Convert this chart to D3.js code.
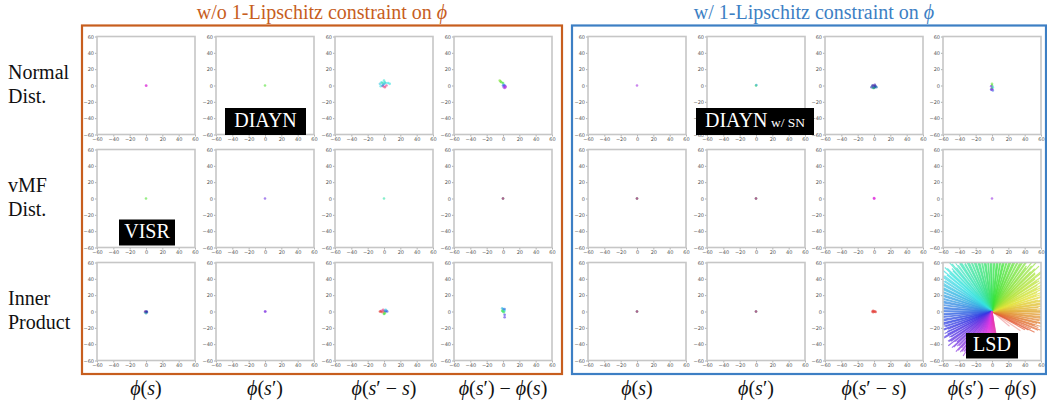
<!DOCTYPE html>
<html>
<head>
<meta charset="utf-8">
<script src="https://cdn.jsdelivr.net/npm/d3@7"></script>
<style>
  html, body { margin: 0; padding: 0; background: #fff; }
  svg { display: block; }
</style>
</head>
<body>
<svg id="chart" width="1047" height="404"></svg>
<script>
// ---- data ----------------------------------------------------------------
const rowLabels = [["Normal", "Dist."], ["vMF", "Dist."], ["Inner", "Product"]];
const columnLabels = ["ϕ(s)", "ϕ(s′)", "ϕ(s′ − s)", "ϕ(s′) − ϕ(s)"];
const groupTitles = ["w/o 1-Lipschitz constraint on ", "w/ 1-Lipschitz constraint on "];
const axisTicks = [-60, -40, -20, 0, 20, 40, 60];
const methodTags = [
  { row: 0, col: 1, name: "DIAYN", suffix: "" },
  { row: 0, col: 5, name: "DIAYN", suffix: " w/ SN" },
  { row: 1, col: 0, name: "VISR", suffix: "" },
  { row: 2, col: 7, name: "LSD", suffix: "" }
];

// Final latent states per skill: [x, y, skill direction in degrees]
const normalDistPoints = [
  [[0, 0, 255], [0.4, -0.3, 265]],
  [[0, 0, 70]],
  [[-3, 4, 140], [0, 6, 135], [2, 3, 150], [-1, 1, 145], [-4, -1, 140], [3, 0, 290], [1, -2, 300],
   [5, 3, 140], [-2, 3, 120], [0, 2, 160], [7, 2, 140], [-5, 2, 150], [-1, -1, 290], [1, 4, 130], [-2, 0, 170]],
  [[-3, 5, 60], [-2, 4, 70], [-4, 6, 55], [0, 3, 80], [1, 1, 150], [2, 0, 200], [3, -1, 235],
   [2, -3, 240], [1, -2, 230], [0, 0, 190], [3, -2, 245]],
  [[0, 0, 240]],
  [[0, 0, 80], [0.5, 0.5, 160]],
  [[-2, 0, 170], [0, -1, 150], [2, -1, 200], [-1, -3, 130], [1, 1, 210], [3, -2, 160],
   [-3, -2, 190], [0, -3, 110], [1, -2, 180], [-1, 0, 230]],
  [[0, 2, 60], [0, 0, 80], [1, -2, 140], [0, -4, 220], [-1, -5, 200], [1, -6, 180],
   [0, -3, 100], [-1, -1, 230], [0, -5, 240]]
];
const vmfDistPoints = [
  [[0, 0, 70]],
  [[0, 0, 220]],
  [[0, 0, 120]],
  [[0, 0, 60], [0, 0, 180], [0, 0, 300]],
  [[0, 0, 60], [0, 0, 180], [0, 0, 300]],
  [[0, 0, 60], [0, 0, 180], [0, 0, 300]],
  [[0, 0, 255], [0.5, 0, 265], [0, 0.5, 260]],
  [[0, 0, 235]]
];
const innerProductPoints = [
  [[0, 0, 170], [-1, -1, 130], [1, -1, 210], [0, -2, 150], [-1, 0, 250], [1, 0, 190]],
  [[0, 0, 220], [0.5, 0, 230]],
  [[-4, 0, -40], [-3, 1, 290], [-2, -1, -35], [-1, 2, 295], [0, 0, -30], [1, 1, 170], [2, 0, 190],
   [3, 1, 180], [1, -2, 70], [0, -3, 80], [2, 2, 150], [-5, 0, -38], [4, 0, 185]],
  [[-1, 4, 150], [0, 3, 160], [1, 2, 170], [2, 1, 140], [0, 0, 120], [-1, 1, 80], [2, 3, 180],
   [1, -1, 90], [2, -4, 200], [2, -7, 210]],
  [[0, 0, 60], [0, 0, 180], [0, 0, 300]],
  [[0, 0, 60], [0, 0, 180], [0, 0, 300]],
  [[-2, 0, -42], [-1, 1, -40], [0, 0, -38], [1, 0, -35], [2, -0.5, -40], [-1, -1, -36]],
  null
];

// LSD trajectories: [direction in degrees, travelled distance]
const lsdTrajectories = [
  [-40, 28], [-34, 42],
  [-29, 46], [-26, 58], [-24, 52], [-21, 64], [-19, 60], [-17, 66], [-15, 57], [-13, 63], [-10, 68], [-8, 61],
  [-6, 64], [-4, 59], [-1, 66], [1, 62], [3, 70], [5, 57], [8, 65], [10, 61], [12, 68], [14, 58], [16, 66],
  [19, 63], [21, 70], [23, 60], [26, 67], [28, 72], [30, 64],
  [33, 69], [35, 75], [37, 66], [39, 78], [42, 71], [44, 80], [46, 68], [49, 74], [51, 77], [53, 70],
  [55, 82], [58, 73], [60, 68], [62, 76], [65, 71], [67, 79], [69, 66], [71, 74], [74, 70], [76, 78],
  [78, 67], [81, 73], [83, 69], [85, 77], [88, 64], [90, 72], [92, 68], [94, 75], [97, 66], [99, 71],
  [101, 63], [104, 74], [106, 69], [108, 66], [110, 72], [113, 68], [115, 75], [117, 70], [120, 67],
  [122, 78], [124, 71], [127, 74], [129, 69], [131, 80], [133, 72], [136, 76], [138, 70], [140, 78], [143, 73],
  [145, 75], [147, 69], [150, 77], [152, 72], [154, 66], [156, 74], [159, 70], [161, 67], [163, 73],
  [166, 65], [168, 71], [170, 63], [172, 68], [175, 66], [177, 72], [179, 62], [182, 69], [184, 64],
  [186, 70], [189, 61], [191, 67], [193, 63], [195, 70], [198, 60],
  [200, 66], [202, 58], [205, 64], [207, 61], [209, 67], [212, 59], [214, 65], [216, 62], [218, 68],
  [221, 57], [223, 64], [225, 60], [228, 66], [230, 58], [232, 63], [235, 60], [237, 65], [239, 57],
  [241, 62], [244, 59],
  [246, 61], [248, 55], [251, 58], [253, 52], [255, 57], [258, 54], [260, 50], [262, 56], [265, 48],
  [268, 53], [271, 47], [274, 51], [277, 44], [280, 40],
  [-27, 50], [-22, 61], [-18, 55], [-14, 67], [-11, 59], [-7, 66], [-3, 62], [0, 69], [2, 55], [6, 67],
  [9, 60], [13, 64], [17, 71], [20, 58], [24, 66], [27, 62], [31, 73], [34, 66], [38, 77], [41, 70],
  [45, 74], [48, 81], [52, 68], [56, 75], [59, 79], [63, 70], [66, 77], [70, 72], [73, 80], [77, 69],
  [80, 75], [84, 71], [87, 78], [91, 66], [95, 74], [98, 69], [102, 77], [105, 65], [109, 73], [112, 70],
  [116, 79], [119, 68], [123, 74], [126, 70], [130, 76], [134, 69], [137, 79], [141, 71], [144, 76],
  [148, 72], [151, 68], [155, 75], [158, 71], [162, 64], [165, 70], [169, 66], [173, 71], [176, 63],
  [180, 68], [183, 65], [187, 71], [190, 62], [194, 66], [197, 62], [201, 63], [204, 60], [208, 66],
  [211, 61], [215, 64], [219, 59], [222, 66], [226, 58], [229, 63], [233, 61], [236, 58], [240, 63],
  [243, 56], [247, 58], [250, 54], [254, 59], [257, 51], [261, 55], [264, 50], [267, 49], [270, 52],
  [273, 46], [276, 48], [279, 43]
];

const panelPoints = [normalDistPoints, vmfDistPoints, innerProductPoints];

// ---- layout --------------------------------------------------------------
const COLS = [97, 216, 335, 454, 588, 707, 825, 943];
const ROWS = [36.5, 149.5, 262.5];
const SIZE = 98;
const ORANGE = "#c75e1e";
const BLUE = "#3d7fc4";
const SERIF = "'Liberation Serif', 'DejaVu Serif', serif";
// darker rendering for the tightly packed clusters
const darkPanels = new Set(["0-6", "2-0"]);

const svg = d3.select("#chart");
const x = d3.scaleLinear().domain([-60, 60]).range([0, SIZE]);
const y = d3.scaleLinear().domain([-60, 60]).range([SIZE, 0]);
const skillColor = (deg, l = 0.55) => d3.hsl(40 + deg, 0.75, l).toString();

// group frames and titles
const groups = [
  { x0: 82, x1: 562, color: ORANGE, title: groupTitles[0], cx: 322 },
  { x0: 572, x1: 1046, color: BLUE, title: groupTitles[1], cx: 814 }
];
groups.forEach(gp => {
  svg.append("rect")
    .attr("x", gp.x0).attr("y", 25.5)
    .attr("width", gp.x1 - gp.x0).attr("height", 374 - 25.5)
    .attr("fill", "none").attr("stroke", gp.color).attr("stroke-width", 2.2);
  const t = svg.append("text")
    .attr("x", gp.cx).attr("y", 18.5)
    .attr("text-anchor", "middle")
    .attr("font-family", SERIF).attr("font-size", 20)
    .attr("fill", gp.color);
  t.append("tspan").text(gp.title);
  t.append("tspan").attr("font-style", "italic").text("ϕ");
});

// row labels
rowLabels.forEach((lines, r) => {
  const mid = ROWS[r] + SIZE / 2 + 5.5;
  lines.forEach((line, i) => {
    svg.append("text")
      .attr("x", 8).attr("y", mid - 12 + i * 24)
      .attr("font-family", SERIF).attr("font-size", 20)
      .attr("fill", "#111").text(line);
  });
});

// column labels (math style: letters italic)
COLS.forEach((cx, c) => {
  const label = columnLabels[c % 4];
  const t = svg.append("text")
    .attr("x", cx + SIZE / 2).attr("y", 395)
    .attr("text-anchor", "middle")
    .attr("font-family", SERIF).attr("font-size", 20).attr("fill", "#111");
  for (const ch of label) {
    t.append("tspan")
      .attr("font-style", /[ϕs]/.test(ch) ? "italic" : "normal")
      .text(ch);
  }
});

// panels
const defs = svg.append("defs");
ROWS.forEach((ry, r) => {
  COLS.forEach((cx, c) => {
    const g = svg.append("g").attr("transform", `translate(${cx},${ry})`);
    const clipId = `clip-${r}-${c}`;
    defs.append("clipPath").attr("id", clipId)
      .append("rect").attr("width", SIZE).attr("height", SIZE);

    g.append("rect").attr("width", SIZE).attr("height", SIZE).attr("fill", "#fff");

    const plot = g.append("g").attr("clip-path", `url(#${clipId})`);
    const pts = panelPoints[r][c];
    if (pts) {
      const l = darkPanels.has(`${r}-${c}`) ? 0.38 : 0.55;
      plot.selectAll("circle").data(pts).join("circle")
        .attr("cx", d => x(d[0])).attr("cy", d => y(d[1]))
        .attr("r", 1.3)
        .attr("fill", d => skillColor(d[2], l))
        .attr("fill-opacity", 0.6);
    } else {
      const line = d3.line().x(d => x(d[0])).y(d => y(d[1]));
      plot.selectAll("path").data(lsdTrajectories).join("path")
        .attr("d", d => {
          const a = d[0] * Math.PI / 180;
          return line([[0, 0], [d[1] * Math.cos(a), d[1] * Math.sin(a)]]);
        })
        .attr("fill", "none")
        .attr("stroke", d => skillColor(d[0], 0.55))
        .attr("stroke-width", 1.15)
        .attr("stroke-opacity", d => d[0] < -30 ? 0.35 : 0.7);
    }

    const styleAxis = a => {
      a.select(".domain").remove();
      a.attr("font-size", 5).attr("font-family", "'DejaVu Sans', sans-serif");
      a.selectAll(".tick line").attr("stroke", "#777").attr("stroke-width", 0.6);
      a.selectAll(".tick text").attr("fill", "#555");
    };
    g.append("g").attr("transform", `translate(0,${SIZE})`)
      .call(d3.axisBottom(x).tickValues(axisTicks).tickSize(2).tickPadding(1))
      .call(styleAxis);
    g.append("g")
      .call(d3.axisLeft(y).tickValues(axisTicks).tickSize(2).tickPadding(1))
      .call(styleAxis);

    g.append("rect").attr("width", SIZE).attr("height", SIZE)
      .attr("fill", "none").attr("stroke", "#c6c6c6").attr("stroke-width", 1.6);
  });
});

// method tags
const tagBoxes = {
  "0-1": { dx: 9, dy: 71.5, w: 81, h: 27 },
  "0-5": { dx: -11, dy: 71.5, w: 118, h: 27 },
  "1-0": { dx: 22, dy: 70, w: 56, h: 26 },
  "2-7": { dx: 23, dy: 70.5, w: 52, h: 25.5 }
};
methodTags.forEach(tag => {
  const b = tagBoxes[`${tag.row}-${tag.col}`];
  const bx = COLS[tag.col] + b.dx, by = ROWS[tag.row] + b.dy;
  svg.append("rect").attr("x", bx).attr("y", by).attr("width", b.w).attr("height", b.h)
    .attr("fill", "#000");
  const t = svg.append("text")
    .attr("x", bx + b.w / 2).attr("y", by + b.h - 8)
    .attr("text-anchor", "middle")
    .attr("font-family", SERIF).attr("font-size", 20).attr("fill", "#fff");
  t.append("tspan").text(tag.name);
  if (tag.suffix) t.append("tspan").attr("font-size", 13.5).text(tag.suffix);
});
</script>
</body>
</html>
